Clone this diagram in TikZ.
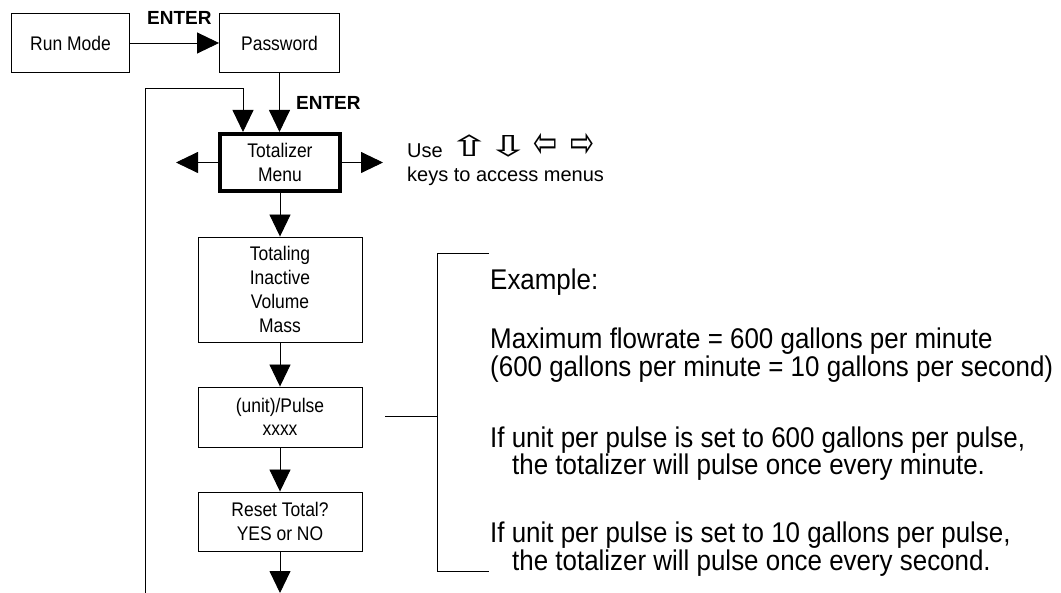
\documentclass[tikz,border=0pt]{standalone}
\usepackage{fontspec}
\usepackage{graphicx}
\setmainfont{Liberation Sans}
\newfontfamily\narrow[FakeStretch=0.887]{Liberation Sans}
\newfontfamily\notefont[FakeStretch=0.91]{Liberation Sans}
\newfontfamily\symfont{DejaVu Sans}
\usetikzlibrary{arrows.meta}
\begin{document}
\begin{tikzpicture}[x=1pt,y=-1pt,
  box/.style={draw, line width=0.9pt, inner sep=0pt, align=center,
    font=\narrow\fontsize{19.7}{23.7}\selectfont},
  arr/.style={-{Triangle[length=22pt,width=21pt]}, line width=0.9pt},
  ln/.style={line width=0.9pt},
  note/.style={anchor=base west, inner sep=0pt, align=left, font=\notefont\fontsize{28.5}{24}\selectfont},
  enter/.style={anchor=base west, inner sep=0pt, font=\bfseries\fontsize{19}{20}\selectfont},
  plain/.style={anchor=base west, inner sep=0pt, font=\fontsize{20}{22}\selectfont},
  keysym/.style={inner sep=0pt, anchor=base, font=\symfont\fontsize{24}{24}\selectfont}]
\useasboundingbox (0,0) rectangle (1061,593);

% boxes
\node[box, minimum width=118pt, minimum height=59pt] (run) at (70.5,43) {Run Mode};
\node[box, minimum width=120pt, minimum height=59pt] (pw) at (279.5,43) {Password};
\node[box, line width=4pt, minimum width=120pt, minimum height=57pt] (tot) at (280,162.5) {Totalizer\\Menu};
\node[box, minimum width=164pt, minimum height=105pt] (tl) at (280,289.5) {Totaling\\Inactive\\Volume\\Mass};
\node[box, minimum width=164pt, minimum height=60pt] (up) at (280,417) {(unit)/Pulse\\xxxx};
\node[box, minimum width=164pt, minimum height=59pt] (rs) at (280,521.5) {Reset Total?\\YES or NO};

% labels
\node[enter] (e1) at (147,25) {ENTER};
\node[enter] (e2) at (296,110) {ENTER};

% coordinates
\coordinate (lb) at (145,593);
\coordinate (lt) at (145,88);
\coordinate (lc) at (243,88);
\coordinate (la) at (176,162.5);
\coordinate (ra) at (383,162.5);
\coordinate (endp) at (280,593);

% connectors
\draw[arr] (run) -- (pw);
\draw[arr] (pw.south) -- (pw.south |- tot.north);
\draw[arr] (lb) -- (lt) -- (lc) -- (lc |- tot.north);
\draw[arr] (tot.west) -- (la);
\draw[arr] (tot.east) -- (ra);
\draw[arr] (tot) -- (tl);
\draw[arr] (tl) -- (up);
\draw[arr] (up) -- (rs);
\draw[arr] (rs) -- (endp);

% key hint
\node[plain] (use) at (407,158) {Use};
\node[keysym] (k1) at (470,157) {\scalebox{2.1}[1.2]{⇧}};
\node[keysym] (k2) at (508.5,157) {\scalebox{2.1}[1.2]{⇩}};
\node[keysym] (k3) at (545.5,158) {\raisebox{0pt}[\height][0pt]{\scalebox{1.2}[1.8]{⇦}}};
\node[keysym] (k4) at (582.5,158) {\raisebox{0pt}[\height][0pt]{\scalebox{1.2}[1.8]{⇨}}};
\node[plain] (keys) at (407,182) {keys to access menus};

% bracket
\coordinate (b1) at (489,253);
\coordinate (b2) at (437,253);
\coordinate (b3) at (437,571);
\coordinate (b4) at (489,571);
\coordinate (bt) at (385,416);
\coordinate (bm) at (437,416);
\draw[ln] (b1) -- (b2) -- (b3) -- (b4);
\draw[ln] (bt) -- (bm);

% example text (anchor base = last line's baseline)
\node[note] (x1) at (490,290) {Example:};
\node[note] (x2) at (490,377) {Maximum flowrate = 600 gallons per minute\\[1pt](600 gallons per minute = 10 gallons per second)};
\node[note] (x4) at (490,475) {If unit per pulse is set to 600 gallons per pulse,\\\hspace*{22pt}the totalizer will pulse once every minute.};
\node[note] (x6) at (490,570) {If unit per pulse is set to 10 gallons per pulse,\\\hspace*{22pt}the totalizer will pulse once every second.};
\end{tikzpicture}
\end{document}
